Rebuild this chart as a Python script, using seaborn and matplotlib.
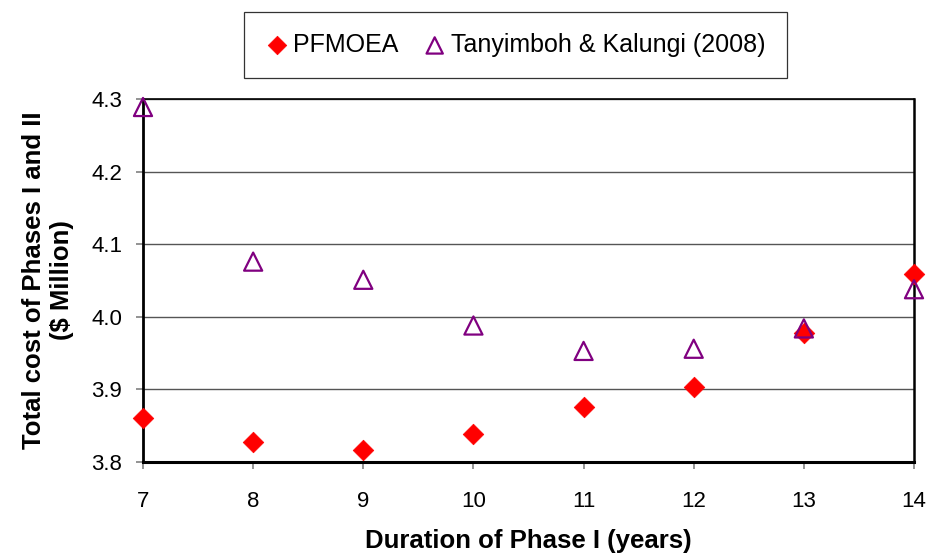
import matplotlib
matplotlib.use("Agg")
import matplotlib.pyplot as plt
import seaborn as sns
import pandas as pd

years = [7, 8, 9, 10, 11, 12, 13, 14]
pfmoea = [3.860, 3.827, 3.816, 3.838, 3.876, 3.903, 3.978, 4.059]
tanyimboh = [4.289, 4.076, 4.051, 3.988, 3.953, 3.956, 3.984, 4.038]
series_names = ["PFMOEA", "Tanyimboh & Kalungi (2008)"]
y_ticks = [3.8, 3.9, 4.0, 4.1, 4.2, 4.3]

df = pd.DataFrame({
    "year": years * 2,
    "cost": pfmoea + tanyimboh,
    "method": [series_names[0]] * len(years) + [series_names[1]] * len(years),
})

sns.set_theme(style="white")
plt.rcParams["font.family"] = ["Liberation Sans", "DejaVu Sans"]
plt.rcParams["text.color"] = "black"
plt.rcParams["axes.labelcolor"] = "black"

fig = plt.figure(figsize=(9.33, 5.55), dpi=100)
ax = fig.add_axes([143 / 933, 1 - 462 / 555, (914 - 143) / 933, (462 - 99) / 555])

sub1 = df[df.method == series_names[0]]
sub2 = df[df.method == series_names[1]]
sns.scatterplot(data=sub1, x="year", y="cost", ax=ax, marker="D", s=110,
                color="#ff0000", edgecolor="#ff0000", linewidth=0.5,
                label=series_names[0], zorder=3, clip_on=False)
sns.scatterplot(data=sub2, x="year", y="cost", ax=ax, marker="^", s=170,
                facecolor="none", edgecolor="#800080", linewidth=1.6,
                label=series_names[1], zorder=4, clip_on=False)

ax.set_xlim(7, 14)
ax.set_ylim(3.8, 4.3)
ax.set_xticks(years)
ax.set_yticks(y_ticks)
ax.set_yticklabels([f"{v:.1f}" for v in y_ticks])
ax.yaxis.grid(True, color="#555555", linewidth=1.0)
ax.xaxis.grid(False)
for side in ["left", "bottom", "top", "right"]:
    ax.spines[side].set_visible(True)
    ax.spines[side].set_color("black")
ax.spines["left"].set_linewidth(2.0)
ax.spines["bottom"].set_linewidth(2.2)
ax.spines["top"].set_linewidth(1.2)
ax.spines["right"].set_linewidth(1.8)
ax.tick_params(axis="both", which="both", direction="out", length=5,
               width=1.2, color="#808080", labelcolor="black",
               bottom=True, left=True, labelsize=16)
ax.tick_params(axis="x", pad=16)
ax.tick_params(axis="y", pad=10)

ax.set_xlabel("Duration of Phase I (years)", fontsize=18.5, fontweight="bold",
              labelpad=12, color="black")
ax.set_ylabel("Total cost of Phases I and II\n($ Million)", fontsize=18.5,
              fontweight="bold", labelpad=12, linespacing=1.25, color="black")

handles, labels = ax.get_legend_handles_labels()
if ax.get_legend():
    ax.get_legend().remove()
leg = fig.legend(handles, labels, loc="center", ncol=2,
                 bbox_to_anchor=(515.5 / 933, 1 - 45 / 555),
                 fontsize=18, frameon=True, fancybox=False,
                 edgecolor="black", handletextpad=0.2, columnspacing=1.0,
                 handlelength=0.9, markerscale=0.9, borderpad=0.85)
leg.get_frame().set_linewidth(0.9)
for t in leg.get_texts():
    t.set_color("black")

fig.savefig("out.png", dpi=100)
